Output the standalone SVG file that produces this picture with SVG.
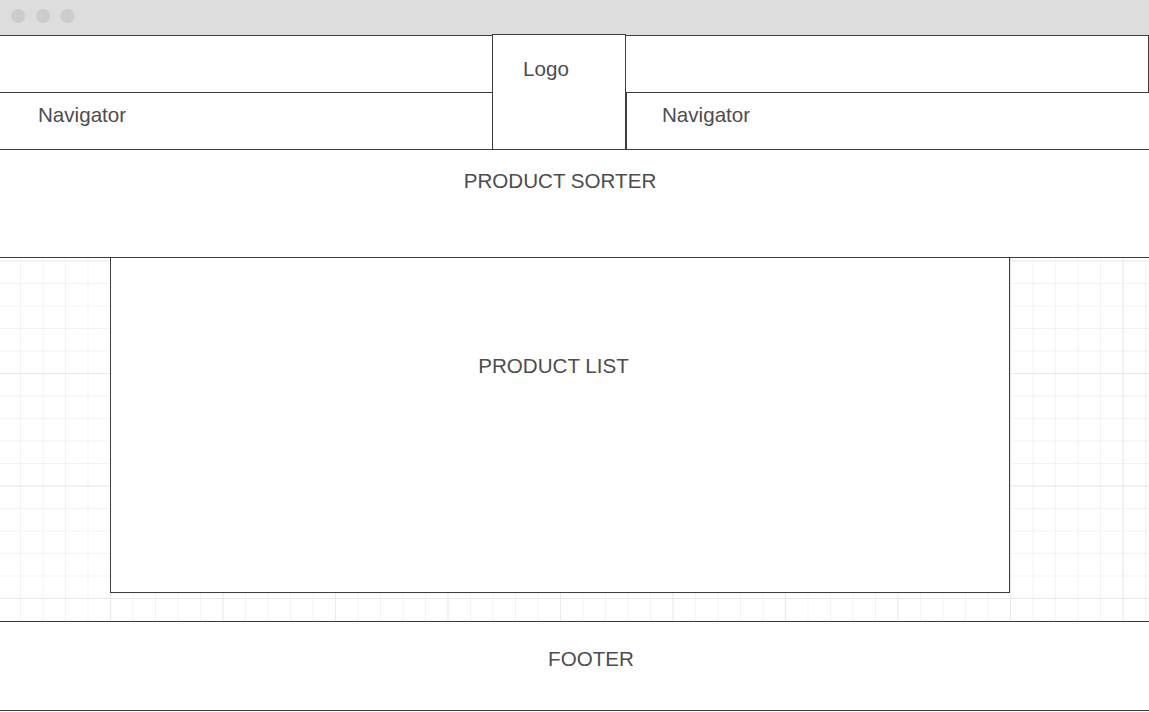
<svg xmlns="http://www.w3.org/2000/svg" width="1149" height="712" viewBox="0 0 1149 712">
  <defs>
    <style>
      .box { fill: #ffffff; stroke: #3c3c3c; stroke-width: 1; }
      .lbl { font-family: "Liberation Sans", Arial, sans-serif; font-size: 20.6px; fill: #4d4d4d; }
      .dot { fill: #cccccc; }
    </style>
    <pattern id="minor" x="-2.5" y="-9.5" width="22.5" height="22.5" patternUnits="userSpaceOnUse">
      <path d="M 0 0 L 0 22.5 M 0 0 L 22.5 0" stroke="#f0f0f0" stroke-width="1.5" fill="none"/>
    </pattern>
    <pattern id="major" x="-2.5" y="-77" width="112.5" height="112.5" patternUnits="userSpaceOnUse">
      <path d="M 0 0 L 0 112.5 M 0 0 L 112.5 0" stroke="#e6e6e6" stroke-width="1.5" fill="none"/>
    </pattern>
  </defs>

  <rect x="0" y="0" width="1149" height="712" fill="#ffffff"/>

  <g id="grid">
    <rect x="0" y="258" width="1149" height="363" fill="url(#minor)"/>
    <rect x="0" y="258" width="1149" height="363" fill="url(#major)"/>
  </g>

  <g id="titlebar">
    <rect x="0" y="0" width="1149" height="35" fill="#dddddd"/>
    <circle class="dot" cx="18" cy="16" r="7"/>
    <circle class="dot" cx="43" cy="16" r="7"/>
    <circle class="dot" cx="67.5" cy="16" r="7"/>
  </g>

  <g id="header-left">
    <rect class="box" x="-10" y="35.5" width="502.5" height="57"/>
  </g>
  <g id="header-right">
    <rect class="box" x="625.5" y="35.5" width="523" height="57"/>
  </g>
  <g id="nav-left">
    <rect class="box" x="-10" y="92.5" width="502.5" height="57"/>
    <text class="lbl" x="38" y="122">Navigator</text>
  </g>
  <g id="nav-right">
    <rect class="box" x="626.5" y="92.5" width="540" height="57"/>
    <text class="lbl" x="662" y="122">Navigator</text>
  </g>
  <g id="logo">
    <rect class="box" x="492.5" y="34.5" width="133" height="115"/>
    <text class="lbl" x="546" y="75.5" text-anchor="middle">Logo</text>
  </g>

  <g id="product-sorter">
    <rect class="box" x="-10" y="149.5" width="1170" height="108"/>
    <text class="lbl" x="560" y="188" text-anchor="middle">PRODUCT SORTER</text>
  </g>

  <g id="product-list">
    <rect class="box" x="110.5" y="257.5" width="899" height="335"/>
    <text class="lbl" x="553.5" y="372.5" text-anchor="middle">PRODUCT LIST</text>
  </g>

  <g id="footer">
    <rect class="box" x="-10" y="621.5" width="1170" height="89"/>
    <text class="lbl" x="591" y="666" text-anchor="middle">FOOTER</text>
  </g>

  <g id="connectors"></g>
</svg>
